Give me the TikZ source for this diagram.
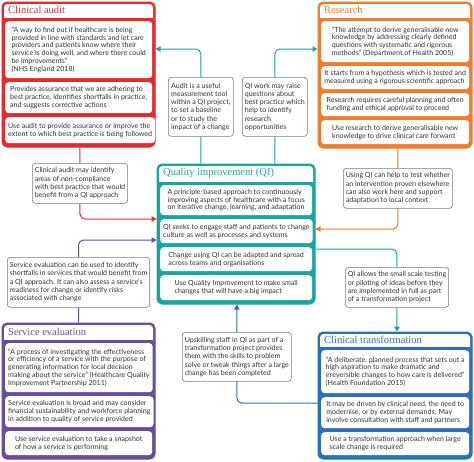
\documentclass[tikz,border=0pt]{standalone}
\usepackage{fontspec}
\setmainfont{Lato}
\newfontfamily\ttlfont{Liberation Serif}
\usetikzlibrary{arrows.meta,fit,backgrounds}
\definecolor{cred}{HTML}{E42A2F}
\definecolor{corange}{HTML}{F07D2E}
\definecolor{cteal}{HTML}{19A6A0}
\definecolor{cpurple}{HTML}{6A4C9C}
\definecolor{cblue}{HTML}{2C6FB7}
\definecolor{textc}{HTML}{333333}
\definecolor{grayc}{HTML}{7A7A7A}
\tikzset{
 panelbox/.style={inner sep=0pt, rounded corners=5pt, fill=#1, draw=#1, line width=1pt},
 ibox/.style={fill=white, rounded corners=3.5pt, inner xsep=3pt, inner ysep=1pt, align=left,
   font=\fontsize{7.05}{7.8}\selectfont, text=textc, anchor=north west},
 note/.style={fill=white, draw=grayc, line width=0.6pt, rounded corners=3pt, inner xsep=2.5pt, inner ysep=1pt,
   align=left, font=\fontsize{7.05}{8.3}\selectfont, text=textc, anchor=north west},
 ttl/.style={font=\ttlfont\fontsize{10.5}{12}\selectfont, text=#1, anchor=west, inner sep=0pt},
 conn/.style={line width=1pt, rounded corners=5pt, -{Triangle[length=5pt,width=5.5pt]}},
}
\newcommand\mkpanel[8]{%
 \node[panelbox=#7, fit={(#2,#3) (#4,#5)}] (#1) {};
 \fill[white, rounded corners=3.5pt] (#2+2,#3+2) rectangle (#4-2,#6+5);
 \fill[#7] (#2+2,#6) rectangle (#4-2,#6+6);
 \node[ttl=#7] (#1-t) at (#2+6,{(#3+#6)/2}) {#8};
}
\newcommand\ib[6]{\node[ibox, minimum width={#4pt-#2pt}, minimum height={#5pt-#3pt}] (#1) at (#2,#3) {#6};}
\newcommand\nb[6]{\node[note, minimum width={#4pt-#2pt}, minimum height={#5pt-#3pt}] (#1) at (#2,#3) {#6};}
\begin{document}
\begin{tikzpicture}[x=1pt,y=-1pt]
\useasboundingbox (0,0) rectangle (474,461);
\begin{pgfonlayer}{background}\fill[white] (0,0) rectangle (474,461);\end{pgfonlayer}

% Clinical audit
\mkpanel{audit}{2}{2}{155}{147}{18}{cred}{Clinical audit}
\ib{a1}{5}{21}{152}{78}{“A way to find out if healthcare is being\\provided in line with standards and let care\\providers and patients know where their\\service is doing well, and where there could\\be improvements”\\(NHS England 2018)}
\ib{a2}{5}{82}{152}{113}{Provides assurance that we are adhering to\\best practice, identifies shortfalls in practice,\\and suggests corrective actions}
\ib{a3}{5}{117}{152}{143}{Use audit to provide assurance or improve the\\extent to which best practice is being followed}

% Research
\mkpanel{research}{318}{2}{472}{148}{18}{corange}{Research}
\ib{r1}{321}{21}{469}{62}{“The attempt to derive generalisable new\\knowledge by addressing clearly defined\\questions with systematic and rigorous\\methods” (Department of Health 2005)}
\ib{r2}{321}{66}{469}{89}{It starts from a hypothesis which is tested and\\measured using a rigorous scientific approach}
\ib{r3}{321}{93}{469}{116}{Research requires careful planning and often\\funding and ethical approval to proceed}
\ib{r4}{321}{120}{469}{144}{Use research to derive generalisable new\\knowledge to drive clinical care forward}

% QI
\mkpanel{qi}{157}{164}{315}{304}{182}{cteal}{Quality improvement (QI)}
\ib{q1}{160}{185}{312}{215}{A principle-based approach to continuously\\improving aspects of healthcare with a focus\\on iterative change, learning, and adaptation}
\ib{q2}{160}{219}{312}{243}{QI seeks to engage staff and patients to change\\culture as well as processes and systems}
\ib{q3}{160}{247}{312}{271}{Change using QI can be adapted and spread\\across teams and organisations}
\ib{q4}{160}{275}{312}{300}{Use Quality Improvement to make small\\changes that will have a big impact}

% Service evaluation
\mkpanel{seval}{2}{323}{155}{459}{340}{cpurple}{Service evaluation}
\ib{s1}{5}{343}{152}{392}{“A process of investigating the effectiveness\\or efficiency of a service with the purpose of\\generating information for local decision\\making about the service” (Healthcare Quality\\Improvement Partnership 2011)}
\ib{s2}{5}{396}{152}{427}{Service evaluation is broad and may consider\\financial sustainability and workforce planning\\in addition to quality of service provided}
\ib{s3}{5}{431}{152}{455}{Use service evaluation to take a snapshot\\of how a service is performing}

% Clinical transformation
\mkpanel{ctrans}{318}{332}{472}{459}{347}{cblue}{Clinical transformation}
\ib{c1}{321}{350}{469}{393}{“A deliberate, planned process that sets out a\\high aspiration to make dramatic and\\irreversible changes to how care is delivered”\\(Health Foundation 2015)}
\ib{c2}{321}{397}{469}{428}{It may be driven by clinical need, the need to\\modernise, or by external demands. May\\involve consultation with staff and partners}
\ib{c3}{321}{432}{469}{455}{Use a transformation approach when large\\scale change is required}

% notes
\nb{n1}{168}{77}{233}{136}{Audit is a useful\\measurement tool\\within a QI project,\\to set a baseline\\or to study the\\impact of a change}
\nb{n2}{242}{77}{307}{136}{QI work may raise\\questions about\\best practice which\\help to identify\\research\\opportunities}
\nb{n3}{32}{163}{125}{203}{Clinical audit may identify\\areas of non-compliance\\with best practice that would\\benefit from a QI approach}
\nb{n4}{7}{257}{148}{307}{Service evaluation can be used to identify\\shortfalls in services that would benefit from\\a QI approach. It can also assess a service’s\\readiness for change or identify risks\\associated with change}
\nb{n5}{343}{168}{450}{208}{Using QI can help to test whether\\an intervention proven elsewhere\\can also work here and support\\adaptation to local context}
\nb{n6}{345}{267}{447}{307}{QI allows the small scale testing\\or piloting of ideas before they\\are implemented in full as part\\of a transformation project}
\nb{n7}{182}{332}{288}{381}{Upskilling staff in QI as part of a\\transformation project provides\\them with the skills to problem\\solve or tweak things after a large\\change has been completed}

\coordinate (y1) at (0,49);
\coordinate (y3) at (0,219);
\coordinate (y4) at (0,240);
\coordinate (y5) at (0,229);
\coordinate (y6) at (0,249);
\coordinate (y7) at (0,403);

\begin{pgfonlayer}{background}
\draw[conn, cteal] (n1 |- qi.north) |- (audit.east |- y1);
\draw[conn, cteal] (n2 |- qi.north) |- (research.west |- y1);
\draw[conn, cred] (n3 |- audit.south) |- (qi.west |- y3);
\draw[conn, cpurple] (n4 |- seval.north) |- (qi.west |- y4);
\draw[conn, corange] (n5 |- research.south) |- (qi.east |- y5);
\draw[conn, cteal] (qi.east |- y6) -| (n6 |- ctrans.north);
\draw[conn, cblue] (ctrans.west |- y7) -| (n7 |- qi.south);
\end{pgfonlayer}
\end{tikzpicture}
\end{document}
